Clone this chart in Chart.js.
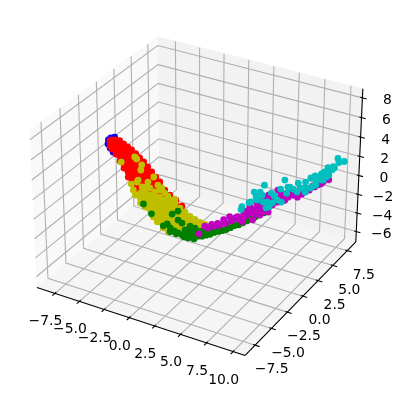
<!DOCTYPE html>
<html>
<head>
<meta charset="utf-8">
<style>
  html, body { margin: 0; padding: 0; background: #fff; }
  canvas { display: block; }
</style>
<script src="https://cdn.jsdelivr.net/npm/chart.js@4/dist/chart.umd.min.js"></script>
</head>
<body>
<canvas id="chart1" width="403" height="399"></canvas>
<script>
// axis ticks
const xTicks = [-7.5, -5, -2.5, 0, 2.5, 5, 7.5, 10];
const yTicks = [-7.5, -5, -2.5, 0, 2.5, 5, 7.5];
const zTicks = [-6, -4, -2, 0, 2, 4, 6, 8];
const xTickLabels = ['−7.5', '−5.0', '−2.5', '0.0', '2.5', '5.0', '7.5', '10.0'];
const yTickLabels = ['−7.5', '−5.0', '−2.5', '0.0', '2.5', '5.0', '7.5'];
const zTickLabels = ['−6', '−4', '−2', '0', '2', '4', '6', '8'];
const xLim = [-9.36, 11.13];
const yLim = [-9, 9];
const zLim = [-7.14, 8.91];

// series, depth (y) can't be read from the picture so each one gets its own
const blueY = 0;
const blueX = [-8.28, -8.02, -7.62, -8.33, -8.12, -7.82];
const blueZ = [3.23, 3.52, 3.70, 2.79, 2.44, 2.11];

const redY = 0;
const redX = [
  -8.12, -8.12,
  -7.92, -7.92, -7.92,
  -7.52, -7.52, -7.52, -7.52,
  -7.12, -7.12, -7.12, -7.12, -7.12,
  -6.72, -6.72, -6.72, -6.72, -6.72, -6.72,
  -6.31, -6.31, -6.31, -6.31, -6.31, -6.31, -6.31,
  -5.91, -5.91, -5.91, -5.91, -5.91, -5.91, -5.91,
  -5.50, -5.50, -5.50, -5.50, -5.50, -5.50, -5.50, -5.50,
  -5.10, -5.10, -5.10, -5.10, -5.10, -5.10, -5.10, -5.10,
  -4.69, -4.69, -4.69, -4.69, -4.69, -4.69, -4.69, -4.69,
  -4.29, -4.29, -4.29, -4.29, -4.29, -4.29, -4.29,
  -3.89, -3.89, -3.89, -3.89, -3.89, -3.89,
  -3.48, -3.48, -3.48, -3.48, -3.48,
  -3.08, -3.08, -3.08, -3.08, -3.08,
  -2.58, -2.58, -2.58, -2.58,
  -2.07, -2.07, -2.07,
  -1.47, -1.47,
  -0.86
];
const redZ = [
  3.18, 2.65,
  3.34, 2.92, 2.39,
  3.46, 3.04, 2.51, 1.99,
  3.48, 2.95, 2.42, 1.90, 1.37,
  3.28, 2.75, 2.23, 1.70, 1.17, 0.75,
  3.08, 2.56, 2.03, 1.50, 0.98, 0.45, -0.08,
  2.89, 2.36, 1.83, 1.31, 0.78, 0.25, -0.27,
  2.60, 2.07, 1.54, 1.02, 0.49, -0.04, -0.57, -1.09,
  2.29, 1.77, 1.24, 0.71, 0.19, -0.34, -0.87, -1.39,
  1.99, 1.47, 0.94, 0.41, -0.11, -0.64, -1.17, -1.70,
  1.59, 1.06, 0.53, 0.01, -0.52, -1.05, -1.57,
  1.18, 0.65, 0.13, -0.40, -0.93, -1.45,
  0.77, 0.25, -0.28, -0.81, -1.33,
  0.38, -0.15, -0.68, -1.20, -1.73,
  -0.32, -0.85, -1.37, -1.90,
  -0.69, -1.22, -1.75,
  -1.04, -1.57,
  -1.49
];

const yellowY = 1.5;
const yellowX = [
  -6.67, -6.16, -6.16, -6.16, -5.65, -5.65, -5.65, -5.65,
  -5.14, -5.14, -5.14,
  -4.63, -4.63, -4.63, -4.63, -4.63,
  -4.12, -4.12, -4.12, -4.12, -4.12, -4.12,
  -3.61, -3.61, -3.61, -3.61, -3.61, -3.61,
  -3.09, -3.09, -3.09, -3.09, -3.09, -3.09,
  -2.58, -2.58, -2.58, -2.58, -2.58, -2.58, -2.58,
  -2.07, -2.07, -2.07, -2.07, -2.07, -2.07,
  -1.56, -1.56, -1.56, -1.56, -1.56,
  -1.05, -1.05, -1.05, -1.05,
  -0.54, -0.54, -0.54,
  -0.03, -0.03, 0.48, 0.48, 0.99, 0.99, 1.5,
  -6.67, -6.47, -8.1, -5.96, -6.06, -4.73, -6.36, -7.08,
  -6.47, -5.34, -5.96, -5.14, -4.32, -3.91, -6.88,
  -5.14, -4.63, -4.12, -3.61, -3.09, -2.58, -3.3, -5.65,
  -4.83, -4.42, -3.81, -3.3
];
const yellowZ = [
  -2.98, -2.62, -3.15, -3.69, -2.35, -2.89, -3.42, -3.96,
  -3.06, -3.59, -4.13,
  -2.04, -3.11, -3.65, -4.18, -4.71,
  -1.68, -2.43, -3.50, -4.03, -4.56, -5.10,
  -1.85, -2.60, -3.67, -4.20, -4.73, -5.27,
  -2.44, -3.51, -4.04, -4.57, -5.11, -5.64,
  -2.61, -3.14, -3.68, -4.21, -4.74, -5.28, -5.71,
  -2.98, -3.52, -4.05, -4.58, -5.12, -5.65,
  -3.26, -3.79, -4.33, -4.86, -5.39,
  -3.54, -4.07, -4.60, -5.14,
  -3.70, -4.23, -4.77,
  -3.87, -4.40, -3.92, -4.35, -3.98, -4.31, -4.05,
  1.07, 0.92, 0.11, 0.44, -0.13, -0.48, -1.29, -1.93,
  -1.54, -1.20, -1.91, -1.78, -1.21, -1.41, -2.51,
  -2.52, -2.58, -2.96, -3.13, -2.97, -2.18, -2.07, -1.82,
  -4.78, -5.19, -5.65, -5.92
];

const greenY = 2.5;
const greenX = [
  -6.55, -5.72, -3.56, -2.95, -2.95, -2.54, -4.49, -4.08, -3.77, -3.36, -2.95, -2.54,
  -2.12, -1.71, -1.30, -0.89, -0.48, -0.07, 0.35, 0.76, 1.17, 1.58, 1.99, 2.40,
  2.82, 3.23, 3.64, 4.05, 4.46, 4.87, 5.29, 5.70,
  -2.23, -1.71, -1.20, -0.68, -0.17, 0.35, 0.86, 1.37, 1.99, 2.61, 3.23, 3.84, -1.71, -1.20,
  -3.15, -2.33, -1.92, -3.77, -1.30
];
const greenZ = [
  -4.52, -5.34, -4.69, -4.18, -5.15, -5.35, -6.26, -5.92, -6.26, -6.45, -6.54, -6.64,
  -6.62, -6.60, -6.47, -6.25, -6.13, -5.89, -5.66, -5.32, -5.09, -4.86, -4.62, -4.29,
  -3.94, -3.72, -3.38, -3.04, -2.70, -2.36, -2.02, -1.69,
  -6.00, -5.96, -5.91, -5.65, -5.38, -5.02, -4.64, -4.38, -3.98, -3.48, -3.07, -2.56, -5.42, -5.48,
  -6.71, -6.78, -6.77, -6.69, -6.69
];

const magentaY = 4;
const magentaX = [
  -1.77, -1.16, -0.46, 0.15, 0.76, 1.36, 1.97, 2.37, 2.68, 3.08, 3.39, 3.69, 3.69,
  4.09, 4.09, 4.40, 4.70, 4.60, 5.10, 5.41, 5.61, 6.12, 6.12, 6.42, 6.62, 7.13, 7.63,
  8.14, 8.64, 9.15, 9.65, 10.26, 10.97,
  2.88, 3.39, 3.89, 4.40, 4.90, 2.88, 4.80, 5.21, 5.21, 4.60, 3.99,
  -0.86, -0.25, 0.35, 0.96, 1.57, 2.17, 2.78, 3.18, 3.59, 3.99, 4.40, 4.80, 5.21,
  5.61, 6.01, 6.42, 6.82, 7.23, 7.63, 8.04, 8.44, 8.85, 9.45, 9.96, 10.46
];
const magentaZ = [
  -7.22, -6.19, -5.76, -5.47, -4.87, -4.36, -4.29, -4.38, -4.50, -3.64, -2.70, -3.24, -3.98,
  -2.59, -2.27, -3.24, -2.31, -1.60, -2.19, -1.77, -1.29, -1.35, -0.08, -0.20, -0.77, -0.52, -0.15,
  0.21, 0.58, 0.83, 1.31, 1.81, 2.44,
  -3.38, -3.22, -2.86, -2.18, -2.56, -3.91, -1.32, -0.88, -2.67, -2.86, -3.26,
  -6.30, -5.91, -5.62, -5.23, -4.73, -4.12, -3.63, -3.18, -2.85, -3.04, -2.61, -1.96, -1.51,
  -1.81, -0.95, -0.62, -0.93, -0.06, 0.38, -0.24, 0.20, 0.95, 1.35, 1.61, 2.08
];

const cyanY = 6;
const cyanX = [
  10.67, 10.77, 11.28, 10.17, 9.86, 9.46, 9.15, 8.85, 8.14, 7.64, 6.93, 8.14, 7.64,
  7.13, 6.12, 5.61, 5.92, 5.21, 5.82, 3.59, 3.18, 2.58, 2.78, 3.39, 4.30, 2.88, 2.27,
  1.36, 1.26, 3.89, 4.09, 4.90, 3.79, 6.83, 8.65, 9.36, 9.86, 8.95, 8.35, 4.40, 5.31,
  9.15, 10.37, 9.66,
  9.76, 9.36, 8.65, 7.64, 6.42, 4.60, 2.07, 3.08, 3.49, 8.55, 10.27, 9.76
];
const cyanZ = [
  3.38, 2.99, 3.24, 2.07, 1.97, 1.64, 1.33, 0.61, 0.61, 0.03, -0.29, -0.45, -1.03,
  -0.76, -0.95, -0.37, -1.01, -1.44, -1.69, -1.51, -2.37, -2.55, -3.02, -2.63, -2.14, -3.31, -3.70,
  -4.51, -4.85, -3.21, -3.68, -2.70, -3.88, -1.27, 0.02, 0.76, 1.44, 0.96, -0.18, -3.16, -2.79,
  0.70, 2.34, 1.17,
  1.62, 1.18, 0.55, -0.50, -1.07, -2.36, -3.86, -2.82, -3.34, 0.94, 2.41, 2.15
];

// same view as a default mplot3d axes
const elev = 30 * Math.PI / 180;
const azim = -60 * Math.PI / 180;
const dist = 10;
const box = [1.1905, 1.1905, 0.8929];
const viewScale = 2004;
const viewCenter = [199.3, 188.5];
const canvasSize = [403, 399];

const w = [Math.cos(elev) * Math.cos(azim), Math.cos(elev) * Math.sin(azim), Math.sin(elev)];
const u = [-Math.sin(azim), Math.cos(azim), 0];
const v = [w[1] * u[2] - w[2] * u[1], w[2] * u[0] - w[0] * u[2], w[0] * u[1] - w[1] * u[0]];

function project(x, y, z) {
    const q = [
        ((x - xLim[0]) / (xLim[1] - xLim[0]) - 0.5) * box[0],
        ((y - yLim[0]) / (yLim[1] - yLim[0]) - 0.5) * box[1],
        ((z - zLim[0]) / (zLim[1] - zLim[0]) - 0.5) * box[2]
    ];
    const dot = (a) => a[0] * q[0] + a[1] * q[1] + a[2] * q[2];
    const d = dist - dot(w);
    return { x: dot(u) / d, y: dot(v) / d };
}

function pathOf(points) {
    return points.map(p => project(p[0], p[1], p[2]));
}

const datasets = [];

function addPane(points, color) {
    datasets.push({
        type: 'line', data: pathOf(points), fill: 'shape', backgroundColor: color,
        borderColor: color, borderWidth: 1, pointRadius: 0, tension: 0
    });
}

function addLine(points, color) {
    datasets.push({
        type: 'line', data: pathOf(points), fill: false, borderColor: color,
        borderWidth: 1.1, pointRadius: 0, tension: 0
    });
}

function addSeries(xs, y, zs, color) {
    datasets.push({
        type: 'scatter', data: xs.map((x, i) => project(x, y, zs[i])),
        backgroundColor: color, borderWidth: 0, pointRadius: 3.4, pointHoverRadius: 3.4
    });
}

const [x0, x1] = xLim;
const [y0, y1] = yLim;
const [z0, z1] = zLim;
const gridColor = '#b0b0b0';

// panes
addPane([[x0, y0, z0], [x0, y1, z0], [x0, y1, z1], [x0, y0, z1]], '#f9f9f9');
addPane([[x0, y1, z0], [x1, y1, z0], [x1, y1, z1], [x0, y1, z1]], '#f2f2f2');
addPane([[x0, y0, z0], [x1, y0, z0], [x1, y1, z0], [x0, y1, z0]], '#f5f5f5');

// grid
xTicks.forEach(t => addLine([[t, y0, z0], [t, y1, z0], [t, y1, z1]], gridColor));
yTicks.forEach(t => addLine([[x1, t, z0], [x0, t, z0], [x0, t, z1]], gridColor));
zTicks.forEach(t => addLine([[x0, y0, t], [x0, y1, t], [x1, y1, t]], gridColor));

// axis lines
addLine([[x0, y0, z0], [x1, y0, z0]], '#000');
addLine([[x1, y0, z0], [x1, y1, z0]], '#000');
addLine([[x1, y1, z0], [x1, y1, z1]], '#000');

// tick marks
const yPad = (y1 - y0);
const xPad = (x1 - x0);
xTicks.forEach(t => addLine([[t, y0 - 0.02 * yPad, z0], [t, y0 + 0.01 * yPad, z0]], '#000'));
yTicks.forEach(t => addLine([[x1 + 0.02 * xPad, t, z0], [x1 - 0.01 * xPad, t, z0]], '#000'));
zTicks.forEach(t => addLine([[x1 + 0.02 * xPad, y1, t], [x1 - 0.01 * xPad, y1, t]], '#000'));

// points
addSeries(blueX, blueY, blueZ, '#0000ff');
addSeries(redX, redY, redZ, '#ff0000');
addSeries(yellowX, yellowY, yellowZ, '#bfbf00');
addSeries(greenX, greenY, greenZ, '#008000');
addSeries(magentaX, magentaY, magentaZ, '#bf00bf');
addSeries(cyanX, cyanY, cyanZ, '#00bfbf');

// list order is draw order
datasets.forEach((d, i) => { d.order = datasets.length - i; });

const tickLabelPlugin = {
    id: 'tickLabels',
    afterDraw(chart) {
        const ctx = chart.ctx;
        const put = (text, pos, dx, dy) => {
            ctx.fillText(text,
                chart.scales.x.getPixelForValue(pos.x) + dx,
                chart.scales.y.getPixelForValue(pos.y) + dy);
        };
        ctx.save();
        ctx.font = '13.9px "DejaVu Sans"';
        ctx.fillStyle = '#000';
        ctx.textAlign = 'center';
        ctx.textBaseline = 'middle';
        xTicks.forEach((t, i) => put(xTickLabels[i], project(t, y0, z0), -9.5, 28.5));
        yTicks.forEach((t, i) => put(yTickLabels[i], project(x1, t, z0), 16.5, 24.5));
        zTicks.forEach((t, i) => put(zTickLabels[i], project(x1, y1, t), 25, 3));
        ctx.restore();
    }
};

new Chart(document.getElementById('chart1'), {
    type: 'scatter',
    data: { datasets: datasets },
    plugins: [tickLabelPlugin],
    options: {
        responsive: false,
        animation: false,
        // no room kept round the points, the canvas is the whole view
        layout: { padding: 0, autoPadding: false },
        plugins: { legend: { display: false }, tooltip: { enabled: false } },
        scales: {
            x: { type: 'linear', display: false, min: -viewCenter[0] / viewScale, max: (canvasSize[0] - viewCenter[0]) / viewScale },
            y: { type: 'linear', display: false, min: (viewCenter[1] - canvasSize[1]) / viewScale, max: viewCenter[1] / viewScale }
        }
    }
});
</script>
</body>
</html>
